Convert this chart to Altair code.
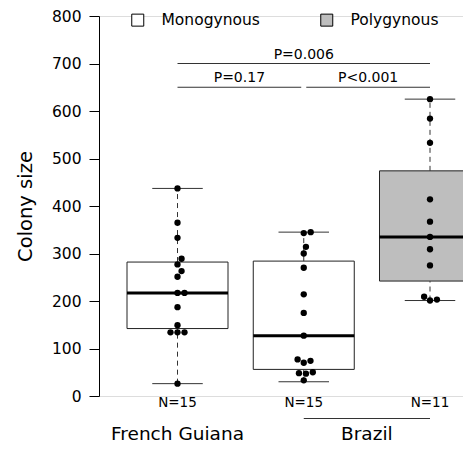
import altair as alt
import pandas as pd

# ---------------- data ----------------
groups = [1, 2, 3]
colony_type = ["Monogynous", "Monogynous", "Polygynous"]
region = ["French Guiana", "Brazil", "Brazil"]

pts_g1 = [437, 365, 333, 289, 277, 263, 251, 217, 217, 187, 149, 134, 134, 134, 26]
pts_g2 = [345, 343, 314, 300, 270, 214, 175, 127, 77, 74, 70, 50, 48, 47, 33]
pts_g3 = [625, 584, 533, 414, 367, 335, 309, 275, 209, 203, 201]

box_min = [26, 30, 201]
box_q1 = [142, 56, 242]
box_med = [217, 127, 335]
box_q3 = [282, 284, 474]
box_max = [437, 345, 625]

cmp_from = [1, 1, 2]
cmp_to = [3, 2, 3]
cmp_level = [700, 650, 650]
cmp_label = ["P=0.006", "P=0.17", "P<0.001"]

type_names = ["Monogynous", "Polygynous"]
type_fill = ["white", "#bebebe"]

# ---------------- layout constants ----------------
PLOT_W, PLOT_H = 364, 380
Y_MAX = 800
PX_PER_UNIT = 126.25      # horizontal pixels between groups
FIRST_PX = 78.5           # pixel position of group 1 from plot left
BOX_HALF = 0.4
CAP_HALF = 0.2
PT_DIAM = 7.0
GAP = 0.02
REGION_LINE_PX = 22.5
FONT = "DejaVu Sans"

x0 = 1 - FIRST_PX / PX_PER_UNIT
x_domain = [x0, x0 + PLOT_W / PX_PER_UNIT]
y_px = PLOT_H / Y_MAX


def swarm(values):
    placed = []
    offs = [0.0] * len(values)
    order = sorted(range(len(values)), key=lambda i: values[i])
    for i in order:
        y = values[i] * y_px
        cands = [0.0]
        blocks = []
        for yy, xx in placed:
            dy = abs(y - yy)
            if dy < PT_DIAM:
                w = (PT_DIAM ** 2 - dy ** 2) ** 0.5
                blocks.append((xx - w, xx + w))
                cands += [xx - w, xx + w]
        valid = [c for c in cands
                 if all(not (lo + 1e-6 < c < hi - 1e-6) for lo, hi in blocks)]
        best = min(valid, key=lambda c: (abs(c), -c))
        offs[i] = best
        placed.append((y, best))
    return offs


rows = []
for g, pts in zip(groups, [pts_g1, pts_g2, pts_g3]):
    for v, o in zip(pts, swarm(pts)):
        rows.append({"x": g + o / PX_PER_UNIT, "value": v})
df_pts = pd.DataFrame(rows)

df_box = pd.DataFrame({
    "group": groups, "type": colony_type,
    "lo": [g - BOX_HALF for g in groups], "hi": [g + BOX_HALF for g in groups],
    "cap_lo": [g - CAP_HALF for g in groups], "cap_hi": [g + CAP_HALF for g in groups],
    "mn": box_min, "q1": box_q1, "med": box_med, "q3": box_q3, "mx": box_max,
    "base": [0] * 3,
    "n_label": ["N=%d" % len(p) for p in [pts_g1, pts_g2, pts_g3]],
})

df_cmp = pd.DataFrame({
    "x1": [a + (GAP if a == 2 else 0) for a in cmp_from],
    "x2": [b - (GAP if b == 2 else 0) for b in cmp_to],
    "level": cmp_level, "label": cmp_label,
})
df_cmp["mid"] = (df_cmp["x1"] + df_cmp["x2"]) / 2

reg_names = list(dict.fromkeys(region))
df_reg = pd.DataFrame({
    "name": reg_names,
    "start": [min(g for g, r in zip(groups, region) if r == n) for n in reg_names],
    "end": [max(g for g, r in zip(groups, region) if r == n) for n in reg_names],
})
df_reg["center"] = (df_reg["start"] + df_reg["end"]) / 2
df_reg["base"] = 0
df_reg["line_y"] = -REGION_LINE_PX / y_px
df_reg_line = df_reg[df_reg["end"] > df_reg["start"]]

xs = alt.Scale(domain=x_domain, nice=False, zero=False)
ys = alt.Scale(domain=[0, Y_MAX], nice=False, zero=False)
y_axis = alt.Axis(
    title="Colony size", values=list(range(0, Y_MAX + 1, 100)), grid=False,
    tickSize=10, tickColor="black", tickWidth=1, domainColor="black", domainWidth=1,
    labelColor="black", labelFont=FONT, labelFontSize=15.5, labelPadding=8,
    titleFont=FONT, titleFontSize=19.5, titleFontWeight="normal", titleColor="black",
    titleAngle=270, titleX=-74, titleY=190, titleAlign="center", titleBaseline="middle",
)


def X(f):
    return alt.X(f, type="quantitative", scale=xs, axis=None)


def Y(f):
    return alt.Y(f, type="quantitative", scale=ys, axis=y_axis)


box = alt.Chart(df_box).mark_rect(stroke="#222", strokeWidth=1).encode(
    x=X("lo"), x2="hi", y=Y("q1"), y2="q3",
    fill=alt.Fill("type:N", scale=alt.Scale(domain=type_names, range=type_fill),
                  legend=alt.Legend(title=None, orient="none", legendX=31, legendY=-4,
                                    direction="horizontal", symbolType="square",
                                    symbolSize=144, symbolStrokeColor="black",
                                    symbolStrokeWidth=1, labelFont=FONT, labelFontSize=15.5,
                                    labelColor="black", labelOffset=16, columnPadding=58,
                                    padding=0)),
)
wu = alt.Chart(df_box).mark_rule(color="#333", strokeDash=[5, 4]).encode(
    x=X("group"), y=Y("q3"), y2="mx")
wl = alt.Chart(df_box).mark_rule(color="#333", strokeDash=[5, 4]).encode(
    x=X("group"), y=Y("mn"), y2="q1")
cu = alt.Chart(df_box).mark_rule(color="#333").encode(x=X("cap_lo"), x2="cap_hi", y=Y("mx"))
cl = alt.Chart(df_box).mark_rule(color="#333").encode(x=X("cap_lo"), x2="cap_hi", y=Y("mn"))
med = alt.Chart(df_box).mark_rule(color="black", strokeWidth=3).encode(
    x=X("lo"), x2="hi", y=Y("med"))
pts = alt.Chart(df_pts).mark_circle(color="black", opacity=1, size=40).encode(
    x=X("x"), y=Y("value"))
nlab = alt.Chart(df_box).mark_text(font=FONT, fontSize=13.5, dy=10.5, baseline="alphabetic",
                                   color="black").encode(
    x=X("group"), y=Y("base"), text="n_label:N")
cmp_line = alt.Chart(df_cmp).mark_rule(color="#333").encode(
    x=X("x1"), x2="x2", y=Y("level"))
cmp_text = alt.Chart(df_cmp).mark_text(font=FONT, fontSize=14, dy=-5,
                                       baseline="alphabetic", color="black").encode(
    x=X("mid"), y=Y("level"), text="label:N")
reg_text = alt.Chart(df_reg).mark_text(font=FONT, fontSize=18.5, dy=43.5,
                                       baseline="alphabetic", color="black").encode(
    x=X("center"), y=Y("base"), text="name:N")
reg_line = alt.Chart(df_reg_line).mark_rule(color="#333").encode(
    x=X("start"), x2="end", y=Y("line_y"))

chart = alt.layer(box, wu, wl, cu, cl, med, pts, nlab, cmp_line, cmp_text,
                  reg_text, reg_line).properties(
    width=PLOT_W, height=PLOT_H,
    autosize=alt.AutoSizeParams(type="none"),
    padding={"left": 91, "top": 8, "right": 0, "bottom": 48},
).configure_view(stroke=None).configure(font=FONT)

chart.save("out.html", embed_options={"renderer": "svg", "actions": False})
